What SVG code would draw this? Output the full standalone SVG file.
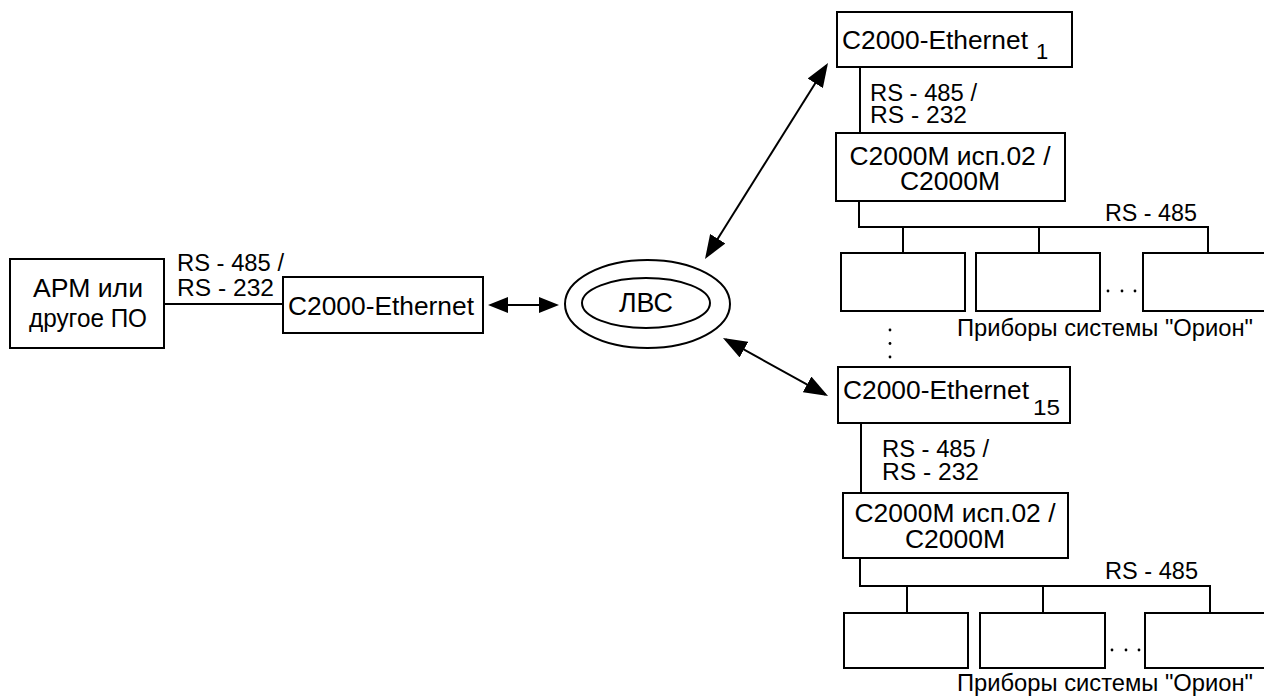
<svg xmlns="http://www.w3.org/2000/svg" width="1264" height="700" viewBox="0 0 1264 700">
<style>
  .box{fill:#fff;stroke:#000;stroke-width:2}
  .ln{fill:none;stroke:#000;stroke-width:2}
  .t{font-family:"Liberation Sans",Arial,sans-serif;fill:#000}
  .m{font-size:26.5px}
  .c{text-anchor:middle}
  .rs{font-size:23px}
  .pr{font-size:24px}
  .sub{font-size:22px}
  .dot{fill:#000}
</style>
<defs>
  <marker id="ah" markerUnits="userSpaceOnUse" markerWidth="24" markerHeight="18" refX="21" refY="9" orient="auto-start-reverse">
    <path d="M0,0 L24,9 L0,18 z" fill="#000"/>
  </marker>
  <marker id="ahs" markerUnits="userSpaceOnUse" markerWidth="20" markerHeight="16" refX="17" refY="8" orient="auto-start-reverse">
    <path d="M0,0 L20,8 L0,16 z" fill="#000"/>
  </marker>
</defs>

<g id="connectors">
  <line class="ln" x1="164" y1="304" x2="283" y2="304"/>
  <line class="ln" x1="491" y1="305" x2="556" y2="305" marker-start="url(#ahs)" marker-end="url(#ahs)"/>
  <line class="ln" x1="706.6" y1="256.5" x2="826.4" y2="65.5" marker-start="url(#ah)" marker-end="url(#ah)"/>
  <line class="ln" x1="725.6" y1="339.4" x2="825.4" y2="394.6" marker-start="url(#ah)" marker-end="url(#ah)"/>
  <line class="ln" x1="860" y1="67" x2="860" y2="133"/>
  <path class="ln" d="M859,201 V227 H1208 V253 M903,227 V253 M1039,227 V253"/>
  <line class="ln" x1="861" y1="423" x2="861" y2="493"/>
  <path class="ln" d="M860,558 V586 H1210 V613 M907,586 V613 M1043,586 V613"/>
  <text class="t rs" x="177" y="271" textLength="107" lengthAdjust="spacingAndGlyphs">RS - 485 /</text>
  <text class="t rs" x="177" y="296" textLength="97" lengthAdjust="spacingAndGlyphs">RS - 232</text>
  <text class="t rs" x="870" y="101" textLength="107" lengthAdjust="spacingAndGlyphs">RS - 485 /</text>
  <text class="t rs" x="870" y="123" textLength="97" lengthAdjust="spacingAndGlyphs">RS - 232</text>
  <text class="t rs" x="1105" y="221" textLength="92" lengthAdjust="spacingAndGlyphs">RS - 485</text>
  <text class="t rs" x="882" y="457" textLength="107" lengthAdjust="spacingAndGlyphs">RS - 485 /</text>
  <text class="t rs" x="882" y="480" textLength="97" lengthAdjust="spacingAndGlyphs">RS - 232</text>
  <text class="t rs" x="1105" y="579" textLength="93" lengthAdjust="spacingAndGlyphs">RS - 485</text>
</g>

<g id="arm">
  <rect class="box" x="10" y="259" width="154" height="89"/>
  <text class="t m c" x="88" y="297" textLength="110" lengthAdjust="spacingAndGlyphs">АРМ или</text>
  <text class="t m c" x="88" y="327" textLength="118" lengthAdjust="spacingAndGlyphs">другое ПО</text>
</g>

<g id="eth-left">
  <rect class="box" x="283" y="277" width="200" height="56"/>
  <text class="t m" x="288" y="315" textLength="186" lengthAdjust="spacingAndGlyphs">C2000-Ethernet</text>
</g>

<g id="lan">
  <ellipse class="ln" cx="647.5" cy="304" rx="82.5" ry="44"/>
  <ellipse class="ln" cx="646" cy="303" rx="64" ry="25"/>
  <text class="t c" x="646" y="312" font-size="27" textLength="54" lengthAdjust="spacingAndGlyphs">ЛВС</text>
</g>

<g id="eth1">
  <rect class="box" x="837" y="12" width="235" height="55"/>
  <text class="t m" x="842" y="49" textLength="186" lengthAdjust="spacingAndGlyphs">C2000-Ethernet</text>
  <text class="t sub" x="1036" y="59">1</text>
</g>

<g id="c2000m-1">
  <rect class="box" x="836" y="133" width="229" height="68"/>
  <text class="t m c" x="950" y="165" textLength="201" lengthAdjust="spacingAndGlyphs">C2000M исп.02 /</text>
  <text class="t m c" x="950" y="190">C2000M</text>
</g>

<g id="devices-1">
  <rect class="box" x="841" y="253" width="124" height="58"/>
  <rect class="box" x="976" y="253" width="124" height="58"/>
  <rect class="box" x="1143" y="253" width="124" height="58"/>
  <circle class="dot" cx="1108" cy="291" r="1.4"/>
  <circle class="dot" cx="1122" cy="291" r="1.4"/>
  <circle class="dot" cx="1135" cy="291" r="1.4"/>
  <text class="t pr" x="957" y="336" textLength="296" lengthAdjust="spacingAndGlyphs">Приборы системы "Орион"</text>
</g>

<g id="vdots">
  <circle class="dot" cx="890" cy="330" r="1.4"/>
  <circle class="dot" cx="890" cy="343.5" r="1.4"/>
  <circle class="dot" cx="890" cy="357" r="1.4"/>
</g>

<g id="eth15">
  <rect class="box" x="838" y="367" width="232" height="56"/>
  <text class="t m" x="843" y="399" textLength="186" lengthAdjust="spacingAndGlyphs">C2000-Ethernet</text>
  <text class="t sub" x="1033" y="415" textLength="27" lengthAdjust="spacingAndGlyphs">15</text>
</g>

<g id="c2000m-2">
  <rect class="box" x="843" y="493" width="225" height="65"/>
  <text class="t m c" x="955" y="522" textLength="201" lengthAdjust="spacingAndGlyphs">C2000M исп.02 /</text>
  <text class="t m c" x="955" y="548">C2000M</text>
</g>

<g id="devices-2">
  <rect class="box" x="844" y="613" width="124" height="55"/>
  <rect class="box" x="980" y="613" width="125" height="55"/>
  <rect class="box" x="1145" y="613" width="124" height="55"/>
  <circle class="dot" cx="1112" cy="650" r="1.4"/>
  <circle class="dot" cx="1126" cy="650" r="1.4"/>
  <circle class="dot" cx="1139" cy="650" r="1.4"/>
  <text class="t pr" x="957" y="691" textLength="296" lengthAdjust="spacingAndGlyphs">Приборы системы "Орион"</text>
</g>
</svg>
